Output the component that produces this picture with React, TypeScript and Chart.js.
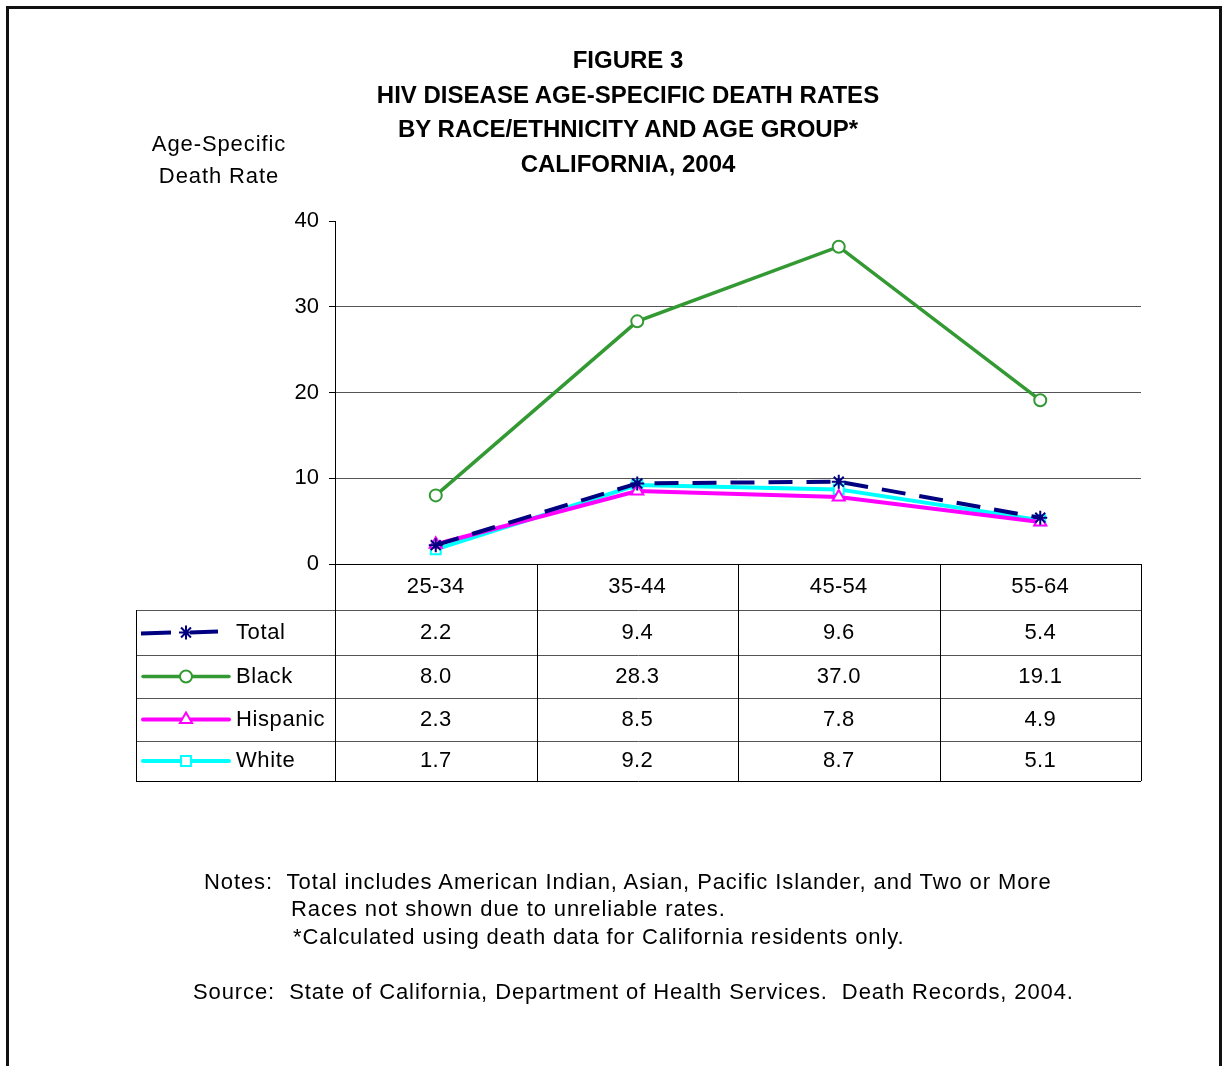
import React, { useEffect, useRef } from 'react';
import { Chart, registerables } from 'chart.js';
import { drawPoint } from 'chart.js/helpers';

Chart.register(...registerables);

const categories = ['25-34', '35-44', '45-54', '55-64'];
const seriesNames = ['Total', 'Black', 'Hispanic', 'White'];
const totalRates = [2.2, 9.4, 9.6, 5.4];
const blackRates = [8.0, 28.3, 37.0, 19.1];
const hispanicRates = [2.3, 8.5, 7.8, 4.9];
const whiteRates = [1.7, 9.2, 8.7, 5.1];
const yTickValues = [0, 10, 20, 30, 40];
const titleLines = [
  'FIGURE 3',
  'HIV DISEASE AGE-SPECIFIC DEATH RATES',
  'BY RACE/ETHNICITY AND AGE GROUP*',
  'CALIFORNIA, 2004',
];
const yAxisLabel = ['Age-Specific', 'Death Rate'];
const noteLines = [
  'Notes:  Total includes American Indian, Asian, Pacific Islander, and Two or More',
  'Races not shown due to unreliable rates.',
  '*Calculated using death data for California residents only.',
];
const sourceLine = 'Source:  State of California, Department of Health Services.  Death Records, 2004.';

const FONT = '"Liberation Sans", Arial, Helvetica, sans-serif';

const tablePlugin = {
  id: 'dataTable',
  afterDraw(chart: any) {
    const ctx = chart.ctx as CanvasRenderingContext2D;
    const area = chart.chartArea;
    const xs = chart.scales.x;
    const n = categories.length;
    const colW = (area.right - area.left) / n;
    const tableLeft = 136;
    const rowH = [46, 45, 43, 43, 40];
    const ys: number[] = [area.bottom];
    rowH.forEach((h) => ys.push(ys[ys.length - 1] + h));
    const bottom = ys[ys.length - 1];

    ctx.save();
    ctx.lineWidth = 1;
    ctx.strokeStyle = '#555';
    for (let r = 1; r < ys.length - 1; r++) {
      ctx.beginPath();
      ctx.moveTo(tableLeft, ys[r] + 0.5);
      ctx.lineTo(area.right, ys[r] + 0.5);
      ctx.stroke();
    }
    ctx.strokeStyle = '#000';
    ctx.beginPath();
    ctx.moveTo(tableLeft, bottom + 0.5);
    ctx.lineTo(area.right, bottom + 0.5);
    ctx.stroke();
    ctx.beginPath();
    ctx.moveTo(tableLeft + 0.5, ys[1]);
    ctx.lineTo(tableLeft + 0.5, bottom);
    ctx.stroke();
    for (let c = 0; c <= n; c++) {
      const xx = Math.round(area.left + c * colW) + 0.5;
      ctx.beginPath();
      ctx.moveTo(xx, ys[0]);
      ctx.lineTo(xx, bottom);
      ctx.stroke();
    }

    ctx.font = '22px ' + FONT;
    (ctx as any).letterSpacing = '0.3px';
    ctx.fillStyle = '#000';
    ctx.textBaseline = 'middle';
    ctx.textAlign = 'center';
    categories.forEach((c, i) => {
      ctx.fillText(c, xs.getPixelForValue(i), (ys[0] + ys[1]) / 2);
    });

    chart.data.datasets.forEach((ds: any, r: number) => {
      const yMid = (ys[r + 1] + ys[r + 2]) / 2;
      ctx.textAlign = 'center';
      ctx.fillStyle = '#000';
      ds.data.forEach((v: number, i: number) => {
        ctx.fillText(v.toFixed(1), xs.getPixelForValue(i), yMid);
      });
      ctx.textAlign = 'left';
      (ctx as any).letterSpacing = '0.6px';
      ctx.fillText(ds.label, 236, yMid);
      (ctx as any).letterSpacing = '0.3px';
      const ly = yMid;
      ctx.save();
      ctx.strokeStyle = ds.borderColor;
      ctx.lineWidth = ds.borderWidth;
      if (ds.borderDash && ds.borderDash.length) {
        ctx.beginPath();
        ctx.moveTo(141, ly + 1);
        ctx.lineTo(171, ly);
        ctx.moveTo(190, ly);
        ctx.lineTo(218, ly - 1);
        ctx.stroke();
      } else {
        ctx.lineCap = 'round';
        ctx.beginPath();
        ctx.moveTo(143, ly);
        ctx.lineTo(229, ly);
        ctx.stroke();
      }
      ctx.strokeStyle = ds.pointBorderColor;
      ctx.fillStyle = ds.pointBackgroundColor;
      ctx.lineWidth = ds.pointBorderWidth;
      drawPoint(ctx, {
        pointStyle: ds.pointStyle,
        radius: ds.pointRadius,
        borderWidth: ds.pointBorderWidth,
        rotation: 0,
      } as any, 186, ly);
      ctx.restore();
    });
    ctx.restore();
  },
};

export default function App() {
  const canvasRef = useRef<HTMLCanvasElement | null>(null);

  useEffect(() => {
    if (!canvasRef.current) return;
    const chart = new Chart(canvasRef.current, {
      type: 'line',
      data: {
        labels: categories,
        datasets: [
          {
            label: seriesNames[0],
            data: totalRates,
            borderColor: '#000080',
            borderWidth: 4,
            borderDash: [24, 14],
            pointStyle: 'star',
            pointRadius: 7,
            pointBorderWidth: 2,
            pointBorderColor: '#000080',
            pointBackgroundColor: '#000080',
          },
          {
            label: seriesNames[1],
            data: blackRates,
            borderColor: '#339933',
            borderWidth: 3.5,
            pointStyle: 'circle',
            pointRadius: 6,
            pointBorderWidth: 2,
            pointBorderColor: '#339933',
            pointBackgroundColor: '#ffffff',
          },
          {
            label: seriesNames[2],
            data: hispanicRates,
            borderColor: '#ff00ff',
            borderWidth: 4,
            pointStyle: 'triangle',
            pointRadius: 7,
            pointBorderWidth: 2,
            pointBorderColor: '#ff00ff',
            pointBackgroundColor: '#ffffff',
          },
          {
            label: seriesNames[3],
            data: whiteRates,
            borderColor: '#00ffff',
            borderWidth: 4,
            pointStyle: 'rect',
            pointRadius: 7,
            pointBorderWidth: 2,
            pointBorderColor: '#00ffff',
            pointBackgroundColor: '#ffffff',
          },
        ] as any,
      },
      options: {
        responsive: false,
        animation: false,
        devicePixelRatio: 1,
        layout: { padding: { left: 295, right: 87, top: 221, bottom: 502 } },
        plugins: {
          legend: { display: false },
          title: { display: false },
          tooltip: { enabled: false },
        },
        elements: { line: { tension: 0 } },
        scales: {
          x: {
            type: 'category',
            display: false,
            offset: true,
          },
          y: {
            min: 0,
            max: 40,
            afterFit: (scale: any) => {
              scale.width = 40;
            },
            afterBuildTicks: (scale: any) => {
              scale.ticks = yTickValues.map((v) => ({ value: v }));
            },
            border: { display: true, color: '#000', width: 1 },
            grid: {
              color: (c: any) => {
                const v = c.tick && c.tick.value;
                if (v === 40) return 'rgba(0,0,0,0)';
                if (v === 0) return '#000';
                return '#555';
              },
              tickColor: '#000',
              tickLength: 6,
              drawTicks: true,
            },
            ticks: {
              color: '#000',
              padding: 10,
              font: { family: FONT, size: 22 },
            },
          },
        },
      } as any,
      plugins: [tablePlugin],
    });
    return () => chart.destroy();
  }, []);

  const textStyle: React.CSSProperties = {
    position: 'absolute',
    fontFamily: FONT,
    fontSize: 22,
    lineHeight: '24px',
    whiteSpace: 'pre',
    color: '#000',
    margin: 0,
    letterSpacing: '0.9px',
  };

  return (
    <div
      style={{
        position: 'absolute',
        left: 0,
        top: 0,
        width: 1228,
        height: 1066,
        overflow: 'hidden',
        background: '#fff',
      }}
    >
      <div
        style={{
          position: 'absolute',
          left: 6,
          top: 6,
          width: 1210,
          height: 2000,
          border: '3px solid #111',
        }}
      />
      <canvas
        ref={canvasRef}
        width={1228}
        height={1066}
        style={{ position: 'absolute', left: 0, top: 0, width: 1228, height: 1066 }}
      />
      {titleLines.map((t, i) => (
        <div
          key={'t' + i}
          style={{
            ...textStyle,
            left: 128,
            width: 1000,
            textAlign: 'center',
            top: 48 + i * 34.5,
            fontWeight: 'bold',
            fontSize: 24,
            letterSpacing: '0px',
          }}
        >
          {t}
        </div>
      ))}
      {yAxisLabel.map((t, i) => (
        <div
          key={'y' + i}
          style={{ ...textStyle, left: 69, width: 300, textAlign: 'center', top: 132 + i * 32 }}
        >
          {t}
        </div>
      ))}
      <div style={{ ...textStyle, left: 204, top: 870 }}>{noteLines[0]}</div>
      <div style={{ ...textStyle, left: 291, top: 897 }}>{noteLines[1]}</div>
      <div style={{ ...textStyle, left: 293, top: 925 }}>{noteLines[2]}</div>
      <div style={{ ...textStyle, left: 193, top: 980 }}>{sourceLine}</div>
    </div>
  );
}
